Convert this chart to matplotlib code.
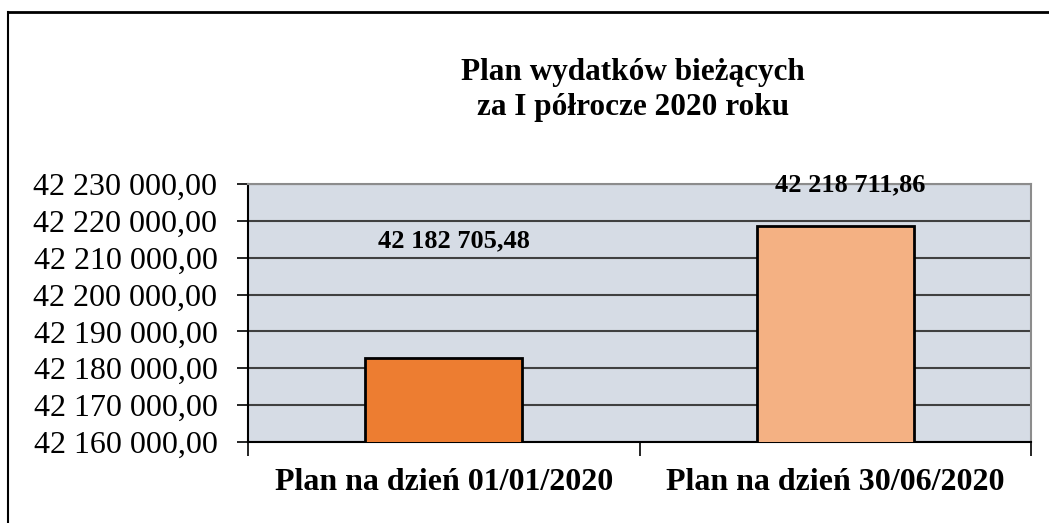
import matplotlib.pyplot as plt
from matplotlib.lines import Line2D
from matplotlib.ticker import FuncFormatter

plt.rcParams['font.family'] = ['Liberation Serif', 'DejaVu Serif']

categories = ['Plan na dzień 01/01/2020', 'Plan na dzień 30/06/2020']
values = [42182705.48, 42218711.86]
colors = ['#ED7D31', '#F4B183']
y_ticks = list(range(42160000, 42230001, 10000))
# label offsets in pixels (dx, dy) from bar top centre
label_offsets = [(10, 118), (15, 41)]


def pl_format(v, decimals=2):
    s = f"{v:,.{decimals}f}"
    return s.replace(',', ' ').replace('.', ',')


fig = plt.figure(figsize=(10.49, 5.23), dpi=100)
ax = fig.add_axes([248 / 1049, 1 - 442 / 523, 783 / 1049, 258 / 523])

ax.set_facecolor('#D6DCE5')
x = list(range(len(categories)))
ax.bar(x, values, width=0.4, color=colors, edgecolor='black', linewidth=2, zorder=3)

ax.set_ylim(y_ticks[0], y_ticks[-1])
ax.set_xlim(-0.5, len(categories) - 0.5)
ax.set_yticks(y_ticks)
ax.yaxis.set_major_formatter(FuncFormatter(lambda v, p: pl_format(v)))
ax.grid(axis='y', color='#404040', linewidth=1.5, zorder=1)
ax.tick_params(axis='y', labelsize=23, length=8, width=1.2, pad=14, direction='out')

# category boundaries as major ticks, names as minor
ax.set_xticks([-0.5 + i for i in range(len(categories) + 1)])
ax.set_xticklabels([])
ax.set_xticks(x, minor=True)
ax.set_xticklabels(categories, minor=True, fontsize=23, fontweight='bold')
ax.tick_params(axis='x', which='major', length=10, width=1.2, direction='out')
ax.tick_params(axis='x', which='minor', length=0, pad=19)

for side in ['top', 'right']:
    ax.spines[side].set_color('#8C8C8C')
    ax.spines[side].set_linewidth(1.5)
for side in ['left', 'bottom']:
    ax.spines[side].set_color('black')
    ax.spines[side].set_linewidth(1.5)

for xi, v, (dx, dy) in zip(x, values, label_offsets):
    ax.annotate(pl_format(v), (xi, v), xytext=(dx * 0.72, dy * 0.72),
                textcoords='offset points', ha='center', va='center',
                fontsize=19, fontweight='bold', zorder=5, annotation_clip=False)

fig.text(633 / 1049, 1 - 90 / 523, 'Plan wydatków bieżących\nza I półrocze 2020 roku',
         ha='center', va='center', fontsize=22.5, fontweight='bold', linespacing=1.28)

# outer frame (top and left only)
fig.add_artist(Line2D([8 / 1049, 1], [1 - 12 / 523, 1 - 12 / 523], color='black', linewidth=2,
                      transform=fig.transFigure))
fig.add_artist(Line2D([8 / 1049, 8 / 1049], [0, 1 - 12 / 523], color='black', linewidth=1.5,
                      transform=fig.transFigure))

fig.savefig('out.png', dpi=100)
